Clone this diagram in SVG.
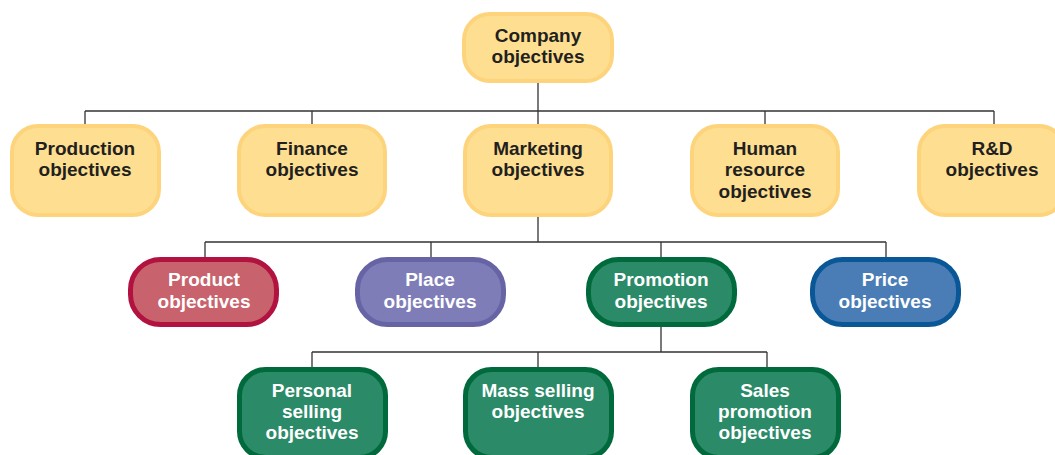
<svg xmlns="http://www.w3.org/2000/svg" width="1055" height="455" viewBox="0 0 1055 455">
<style>
.y{fill:#fedf91;stroke:#fdd47b;stroke-width:4}
.t{font-family:"Liberation Sans",Arial,sans-serif;font-weight:bold;font-size:19px;text-anchor:middle}
.dk{fill:#231f20}
.wh{fill:#ffffff}
.prod{fill:#c8626c;stroke:#b2123f;stroke-width:5}
.plac{fill:#7e7db7;stroke:#6764a6;stroke-width:5}
.grn{fill:#2b8a67;stroke:#006a3c;stroke-width:5}
.pric{fill:#4a7db5;stroke:#0a5797;stroke-width:5}
.c{fill:none;stroke:#333333;stroke-width:1.3}
</style>
<g id="connectors" class="c">
<path d="M538 82V111M85 111H994M85 111V126M312 111V126M538 111V126M765 111V126M994 111V126"/>
<path d="M538 215V242M205 242H886M205 242V259M431 242V259M661 242V259M886 242V259"/>
<path d="M661 326V352M312 352H767M312 352V369M538 352V369M767 352V369"/>
</g>
<g id="company"><rect class="y" x="464" y="14" width="148" height="67" rx="26"/><text class="t dk" x="538" y="42">Company</text><text class="t dk" x="538" y="63">objectives</text></g>
<g id="production"><rect class="y" x="12" y="126" width="147" height="89" rx="26"/><text class="t dk" x="85" y="155">Production</text><text class="t dk" x="85" y="176">objectives</text></g>
<g id="finance"><rect class="y" x="239" y="126" width="146" height="89" rx="26"/><text class="t dk" x="312" y="155">Finance</text><text class="t dk" x="312" y="176">objectives</text></g>
<g id="marketing"><rect class="y" x="465" y="126" width="146" height="89" rx="26"/><text class="t dk" x="538" y="155">Marketing</text><text class="t dk" x="538" y="176">objectives</text></g>
<g id="human"><rect class="y" x="692" y="126" width="146" height="89" rx="26"/><text class="t dk" x="765" y="155">Human</text><text class="t dk" x="765" y="176">resource</text><text class="t dk" x="765" y="198">objectives</text></g>
<g id="rd"><rect class="y" x="919" y="126" width="146" height="89" rx="26"/><text class="t dk" x="992" y="155">R&amp;D</text><text class="t dk" x="992" y="176">objectives</text></g>
<g id="product"><rect class="prod" x="130.5" y="259.5" width="146" height="65" rx="30"/><text class="t wh" x="204" y="286">Product</text><text class="t wh" x="204" y="308">objectives</text></g>
<g id="place"><rect class="plac" x="357.5" y="259.5" width="146" height="65" rx="30"/><text class="t wh" x="430" y="286">Place</text><text class="t wh" x="430" y="308">objectives</text></g>
<g id="promotion"><rect class="grn" x="588.5" y="259.5" width="146" height="65" rx="30"/><text class="t wh" x="661" y="286">Promotion</text><text class="t wh" x="661" y="308">objectives</text></g>
<g id="price"><rect class="pric" x="812.5" y="259.5" width="146" height="65" rx="30"/><text class="t wh" x="885" y="286">Price</text><text class="t wh" x="885" y="308">objectives</text></g>
<g id="personal"><rect class="grn" x="239.5" y="369.5" width="146" height="88" rx="26"/><text class="t wh" x="312" y="397">Personal</text><text class="t wh" x="312" y="418">selling</text><text class="t wh" x="312" y="439">objectives</text></g>
<g id="mass"><rect class="grn" x="465.5" y="369.5" width="146" height="88" rx="26"/><text class="t wh" x="538" y="397">Mass selling</text><text class="t wh" x="538" y="418">objectives</text></g>
<g id="sales"><rect class="grn" x="692.5" y="369.5" width="146" height="88" rx="26"/><text class="t wh" x="765" y="397">Sales</text><text class="t wh" x="765" y="418">promotion</text><text class="t wh" x="765" y="439">objectives</text></g>
</svg>
